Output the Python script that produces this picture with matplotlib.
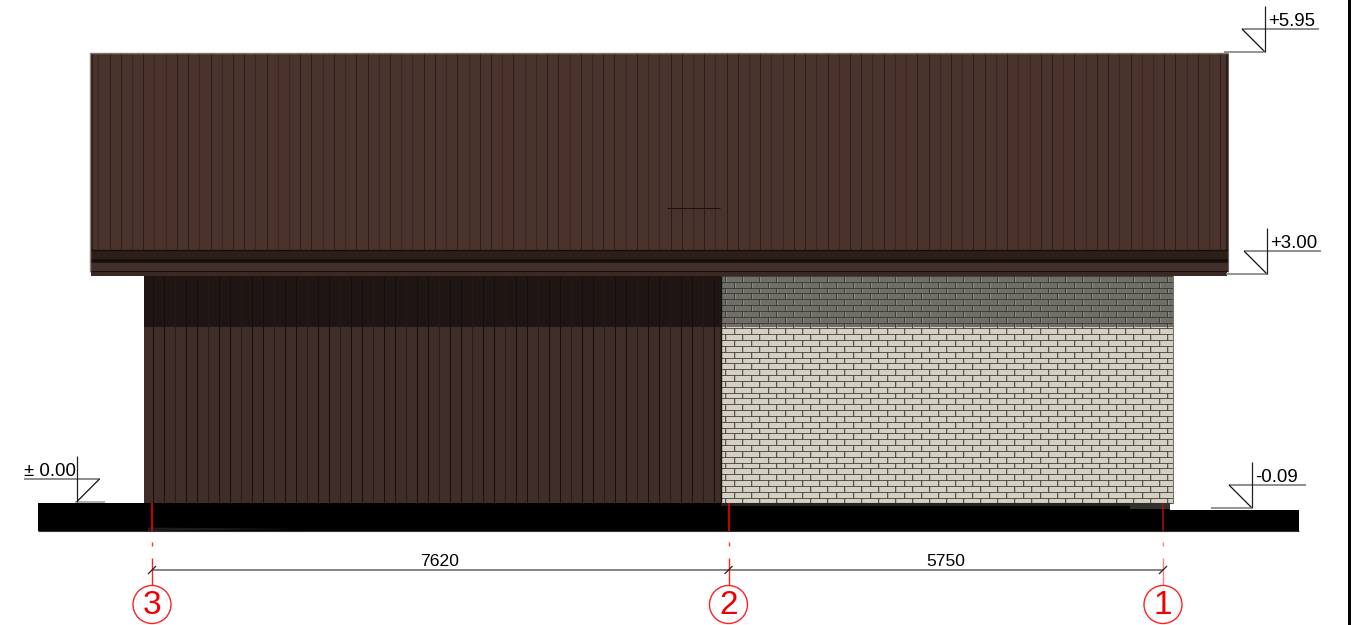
import numpy as np
import matplotlib
matplotlib.use("Agg")
import matplotlib.pyplot as plt
from matplotlib.patches import Rectangle, Circle, Polygon
from matplotlib.collections import LineCollection

plt.rcParams['font.family'] = ['Liberation Sans', 'DejaVu Sans']

# data
level_labels = ["+5.95", "+3.00", "± 0.00", "-0.09"]
level_x = [1265, 1267, 76.5, 1252]     # vertical stem of each mark
level_y = [52, 274, 502, 508]          # foot of each mark
grid_names = ["3", "2", "1"]
grid_x = [152, 728.5, 1163]
dim_values = ["7620", "5750"]

# colours
roof_col = "#4a332c"
wall_col = "#3e2d28"
wall_shadow = "#1f1613"
brick_light = "#d4d1c4"
brick_shadow = "#6f6f68"
joint_col = "#33312c"

W, H = 1354, 625
fig = plt.figure(figsize=(W / 100, H / 100), dpi=100)
ax = fig.add_axes([0, 0, 1, 1])
ax.set_xlim(0, W)
ax.set_ylim(H, 0)
ax.axis("off")


def rect(x0, y0, x1, y1, col, z=1):
    ax.add_patch(Rectangle((x0, y0), x1 - x0, y1 - y0, fc=col, ec="none", zorder=z))


def line(xs, ys, col="black", lw=0.8, z=6, **kw):
    ax.plot(xs, ys, color=col, lw=lw, zorder=z, solid_capstyle="butt", **kw)


# roof
rect(90, 53, 1228, 250, roof_col)
roof_lines = np.arange(98.3, 1226, 11.22)
strong = [False, True, True, False, True, False, False, True, True, False, True]
segs = [[(x, 53), (x, 250)] for x in roof_lines]
cols = ["#2a1e19" if strong[i % len(strong)] else "#382722" for i in range(len(segs))]
ax.add_collection(LineCollection(segs, colors=cols, linewidths=0.75, zorder=2))
rect(90.5, 53, 92.5, 250, "#2a1d18", 2)
rect(1225.5, 53, 1228, 250, "#2a1d18", 2)
line([90, 1228], [53.3, 53.3], "#7d7672", 1.0, 3)
line([667, 720], [207.5, 207.5], "#1a1210", 0.7, 3)

# eaves
rect(90, 250, 1228, 259, "#2c1f1a", 2)
rect(90, 259, 1228, 263, "#1f1512", 2)
rect(90, 263, 1228, 271, "#42302a", 2)
rect(91, 271, 1227, 276, "#3a2a25", 2)
line([90, 1228], [250, 250], "#140d0b", 1.0, 3)
line([90, 1228], [259.5, 259.5], "#140d0b", 1.0, 3)
line([90, 1228], [271.2, 271.2], "#1a110e", 0.8, 3)
line([90.3, 90.3], [53, 272], "#8a8684", 1.0, 3)
line([1228, 1228], [53, 272], "#6a625e", 0.8, 3)

# timber wall
rect(144, 276, 721, 505, wall_col)
rect(144, 276, 721, 327, wall_shadow, 2)
wall_lines = np.arange(153, 720, 11.0)
segs = [[(x, 276), (x, 505)] for x in wall_lines]
cols = ["#15100d" if i % 3 != 2 else "#271b17" for i in range(len(segs))]
ax.add_collection(LineCollection(segs, colors=cols, linewidths=0.7, zorder=3))

# brick wall
rect(721, 276, 1173, 327, brick_shadow)
rect(721, 327, 1173, 503, brick_light)
course_h = 5.83
brick_l = 17.0
segs = []
shade = []
rows = np.arange(276, 503, course_h)
for i, y in enumerate(rows):
    segs.append([(721, y), (1173, y)])
    for x in np.arange(721 + (i % 2) * brick_l / 2 + 4, 1173, brick_l):
        segs.append([(x, y), (x, min(y + course_h, 503))])
        shade.append([(x + 1, y), (x + 1, min(y + course_h, 503))])
ax.add_collection(LineCollection(shade, colors="#a09e95", linewidths=0.4, zorder=2.5))
ax.add_collection(LineCollection(segs, colors=joint_col, linewidths=0.55, zorder=3))
line([721, 721], [276, 505], "#14100d", 1.0, 4)
line([1173, 1173], [276, 503], "#77756e", 0.8, 4)
line([721, 1173], [503, 503], "#55534d", 0.8, 4)

# ground
rect(38, 503, 1170, 531, "black", 5)
rect(1170, 510, 1299, 531, "black", 5)
rect(721, 503, 1170, 506, "#24231f", 5)
rect(1130, 503, 1170, 509, "#33312d", 5)
ax.add_patch(Polygon([(148, 527.5), (300, 529), (148, 531)], fc="#1c1c1c", ec="none", zorder=5))
line([38, 1299], [531, 531], "#333333", 0.8, 6)

# level marks
for lab, sx, fy in zip(level_labels, level_x, level_y):
    left = lab.startswith("±")
    ty = fy - 23
    if left:
        line([sx - 53, sx + 23], [ty, ty], "#6f6f6f", 1.1)
        line([sx + 23, sx], [ty, fy], "#111111", 0.9)
        line([sx - 2, sx + 28], [fy, fy], "#9a9a9a", 1.1)
        ax.text(sx, ty + 0.5, lab, fontsize=13.4, ha="right", va="bottom", zorder=7)
    else:
        line([sx - 23, sx + 54], [ty, ty], "#6f6f6f", 1.1)
        line([sx - 23, sx], [ty, fy], "#111111", 0.9)
        line([sx - 41, sx], [fy, fy], "#777777", 1.1)
        ax.text(sx + 3.5, ty + 0.5, lab, fontsize=13.4, ha="left", va="bottom", zorder=7)
    line([sx, sx], [fy - 46, fy], "#222222", 0.9)

# grid axes and dimensions
dim_y = 570
line([grid_x[0], grid_x[-1]], [dim_y, dim_y], "#6f6f6f", 1.2)
for name, x in zip(grid_names, grid_x):
    dark = x > 1000
    line([x, x], [503, 531], "#a01010" if dark else "#f00000", 1.2, 7)
    line([x, x], [542, 546], "#ff8080" if dark else "#ff3030", 1.0, 7)
    line([x, x], [558, 586], "#ff8080" if dark else "#ff2020", 1.0, 7)
    line([x - 4, x + 4], [dim_y + 4, dim_y - 4], "#222222", 0.9, 8)
    ax.add_patch(Circle((x, 604.5), 19, fc="white", ec="#ff2020", lw=1.0, zorder=7))
    ax.text(x, 605, name, color="#f00000", fontsize=24, ha="center", va="center", zorder=8)
for val, a, b in zip(dim_values, grid_x[:-1], grid_x[1:]):
    ax.text((a + b) / 2 - 0.5, dim_y - 1, val, fontsize=12.6, ha="center", va="bottom", zorder=7)

# sheet border
rect(1348, 0, 1351, H, "black", 9)

fig.savefig("out.png", dpi=100)
